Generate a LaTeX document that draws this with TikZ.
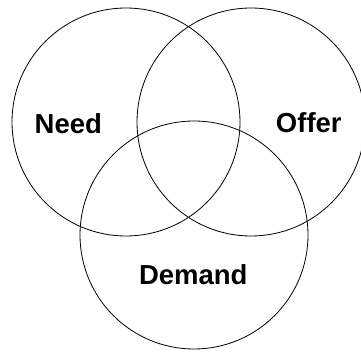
\documentclass[tikz,border=0pt]{standalone}
\usepackage{fontspec}
\setmainfont{Liberation Sans}
\begin{document}
\begin{tikzpicture}[x=1pt,y=-1pt,
  ring/.style={draw=black,line width=0.8pt},
  lbl/.style={inner sep=0pt,font=\fontsize{27.5}{30}\selectfont\bfseries}]
\useasboundingbox (0,0) rectangle (361,352);
\node[ring,circle,minimum size=228pt,inner sep=0pt] (need) at (126,122) {};
\node[ring,circle,minimum size=228pt,inner sep=0pt] (offer) at (251,122) {};
\node[ring,circle,minimum size=228pt,inner sep=0pt] (demand) at (194,235) {};
\node[lbl] (tneed) at (68.3,123.3) {Need};
\node[lbl] (toffer) at (308.8,123) {Offer};
\node[lbl] (tdemand) at (193.3,275) {Demand};
\end{tikzpicture}
\end{document}
